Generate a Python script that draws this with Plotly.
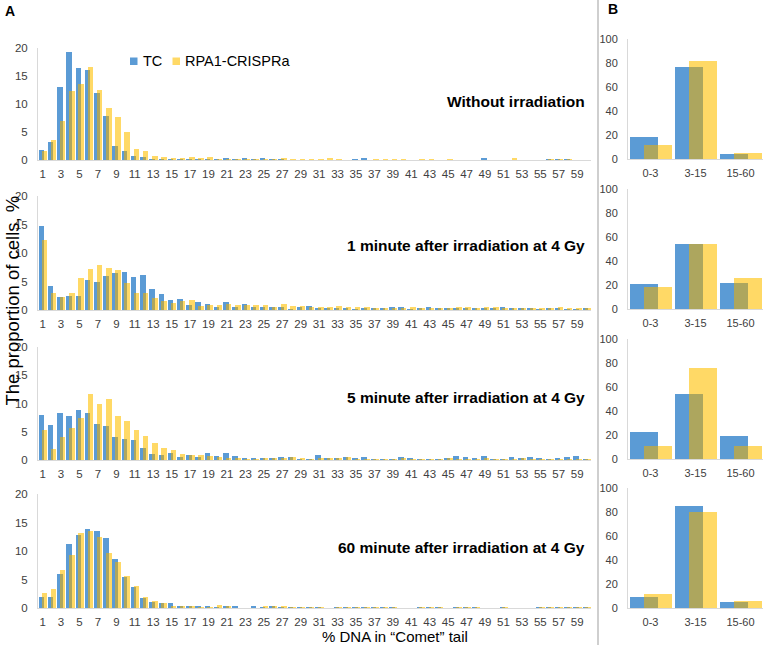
import numpy as np
import plotly.graph_objects as go

# ---------------- data ----------------
bins = list(range(1, 61))
bin_ticks = list(range(1, 60, 2))
bin_tick_labels = [str(v) for v in bin_ticks]

series_names = ["TC", "RPA1-CRISPRa"]
panel_titles = ["Without irradiation",
                "1 minute after irradiation at 4 Gy",
                "5 minute after irradiation at 4 Gy",
                "60 minute after irradiation at 4 Gy"]

tc_0 = [1.8, 3.3, 13.0, 19.2, 16.5, 16.0, 12.0, 7.8, 2.5, 1.6, 0.7, 0.6, 0.15, 0.1, 0.15,
        0.15, 0.15, 0.1, 0.1, 0.05, 0.25, 0.05, 0.2, 0.1, 0.2, 0.05, 0.05, 0.0, 0.0, 0.0,
        0.0, 0.0, 0.0, 0.0, 0.05, 0.2, 0.0, 0.0, 0.0, 0.0, 0.0, 0.0, 0.0, 0.0, 0.0,
        0.0, 0.0, 0.0, 0.3, 0.0, 0.0, 0.0, 0.0, 0.0, 0.0, 0.05, 0.15, 0.05, 0.0, 0.0]
rpa_0 = [1.6, 3.55, 6.9, 12.4, 13.6, 16.6, 12.5, 9.3, 7.6, 5.0, 1.9, 1.65, 0.75, 0.45, 0.35,
         0.35, 0.45, 0.3, 0.45, 0.1, 0.15, 0.1, 0.1, 0.1, 0.1, 0.1, 0.3, 0.1, 0.15, 0.15,
         0.05, 0.2, 0.15, 0.0, 0.0, 0.0, 0.05, 0.15, 0.15, 0.1, 0.0, 0.15, 0.15, 0.0, 0.15,
         0.0, 0.0, 0.0, 0.0, 0.0, 0.0, 0.2, 0.0, 0.0, 0.0, 0.1, 0.15, 0.15, 0.0, 0.0]

tc_1 = [14.7, 4.2, 2.35, 2.45, 2.45, 5.25, 4.95, 5.95, 6.5, 6.65, 5.75, 6.1, 3.65, 2.8, 1.75,
        1.85, 0.9, 1.35, 1.0, 0.45, 1.4, 0.6, 1.05, 0.45, 0.6, 0.45, 0.6, 0.1, 0.6, 0.7,
        0.4, 0.4, 0.35, 0.35, 0.1, 0.25, 0.2, 0.2, 0.45, 0.45, 0.1, 0.25, 0.45, 0.25, 0.2,
        0.25, 0.35, 0.35, 0.35, 0.4, 0.45, 0.35, 0.3, 0.3, 0.1, 0.25, 0.25, 0.1, 0.1, 0.2]
rpa_1 = [12.2, 3.0, 2.35, 3.0, 5.7, 7.15, 7.85, 7.45, 7.05, 4.7, 2.9, 2.9, 2.1, 1.5, 1.2,
         1.55, 1.75, 0.75, 0.95, 0.8, 1.05, 0.8, 0.8, 0.8, 0.85, 0.45, 1.05, 0.7, 0.65, 0.5,
         0.6, 0.45, 0.7, 0.45, 0.6, 0.45, 0.3, 0.3, 0.4, 0.25, 0.55, 0.35, 0.25, 0.25, 0.35,
         0.45, 0.45, 0.4, 0.6, 0.45, 0.35, 0.35, 0.35, 0.25, 0.3, 0.4, 0.45, 0.25, 0.3, 0.3]

tc_5 = [8.05, 6.25, 8.4, 7.75, 8.8, 8.4, 6.35, 6.1, 4.05, 3.8, 3.5, 2.1, 1.05, 0.9, 1.25,
        0.6, 0.9, 0.6, 1.25, 0.65, 1.25, 0.65, 0.35, 0.2, 0.3, 0.3, 0.45, 0.55, 0.1, 0.05,
        0.9, 0.3, 0.25, 0.6, 0.3, 0.6, 0.05, 0.1, 0.05, 0.6, 0.35, 0.02, 0.05, 0.05, 0.4,
        0.75, 0.45, 0.35, 0.75, 0.1, 0.05, 0.45, 0.4, 0.6, 0.35, 0.1, 0.35, 0.6, 0.75, 0.1]
rpa_5 = [5.3, 1.95, 4.0, 5.7, 7.35, 11.6, 10.0, 10.75, 7.75, 6.9, 5.25, 4.25, 3.0, 2.05, 1.75,
         1.05, 0.9, 0.9, 0.7, 0.6, 0.3, 0.25, 0.1, 0.05, 0.25, 0.2, 0.2, 0.45, 0.3, 0.15,
         0.3, 0.25, 0.35, 0.55, 0.1, 0.05, 0.05, 0.05, 0.05, 0.3, 0.05, 0.02, 0.05, 0.1, 0.2,
         0.1, 0.05, 0.05, 0.2, 0.05, 0.05, 0.05, 0.25, 0.05, 0.05, 0.05, 0.05, 0.05, 0.05, 0.05]

tc_60 = [1.9, 1.85, 6.0, 11.3, 12.8, 13.9, 13.5, 12.2, 8.55, 5.4, 3.65, 1.7, 1.1, 0.95, 0.85,
         0.25, 0.35, 0.25, 0.35, 0.15, 0.25, 0.25, 0.0, 0.3, 0.1, 0.3, 0.1, 0.05, 0.1, 0.1,
         0.1, 0.0, 0.1, 0.15, 0.15, 0.15, 0.15, 0.15, 0.1, 0.0, 0.0, 0.1, 0.15, 0.1, 0.0,
         0.1, 0.1, 0.1, 0.0, 0.0, 0.1, 0.0, 0.0, 0.0, 0.05, 0.1, 0.1, 0.05, 0.1, 0.05]
rpa_60 = [2.6, 3.25, 6.65, 9.25, 13.1, 13.45, 12.5, 9.6, 8.0, 5.65, 3.85, 1.9, 1.3, 0.95, 0.25,
          0.25, 0.25, 0.15, 0.1, 0.5, 0.25, 0.0, 0.0, 0.0, 0.25, 0.25, 0.25, 0.1, 0.15, 0.15,
          0.15, 0.0, 0.15, 0.1, 0.15, 0.1, 0.1, 0.1, 0.1, 0.0, 0.0, 0.1, 0.1, 0.1, 0.0,
          0.15, 0.15, 0.15, 0.0, 0.0, 0.15, 0.0, 0.0, 0.0, 0.1, 0.1, 0.15, 0.15, 0.15, 0.15]

groups = ["0-3", "3-15", "15-60"]
tc_groups = [[18, 77, 4], [21, 54, 22], [22.5, 54, 19], [9.5, 85, 5]]
rpa_groups = [[12, 82, 5], [18, 54, 26], [11, 76, 11], [12, 80, 6]]

tc_hist = [tc_0, tc_1, tc_5, tc_60]
rpa_hist = [rpa_0, rpa_1, rpa_5, rpa_60]

# ---------------- style ----------------
W, H = 763, 645
BLUE = "#5B9BD5"
YELLOW = "#FFD966"
OLIVE = "#ADA65E"
FONT = "Liberation Sans, Arial, sans-serif"
TICKC = "#404040"
LINEC = "#D9D9D9"

left_x = (38, 591)
right_x = (628, 763)
left_y = [(160, 48), (310, 196), (460, 347), (608, 494)]
right_y = [(159, 39), (309, 189), (459, 339), (608, 488)]


def px(x):
    return x / W


def py(y):
    return 1 - y / H


fig = go.Figure()
layout = {}

for i in range(4):
    # left histogram panel
    ax = i + 1
    xa, ya = f"x{ax}", f"y{ax}"
    tc = np.array(tc_hist[i])
    rp = np.array(rpa_hist[i])
    fig.add_trace(go.Bar(x=bins, y=tc, name=series_names[0], marker=dict(color=BLUE, line_width=0),
                         offset=-0.42, width=0.6, xaxis=xa, yaxis=ya, showlegend=False))
    fig.add_trace(go.Bar(x=bins, y=rp, name=series_names[1], marker=dict(color=YELLOW, line_width=0),
                         offset=-0.12, width=0.6, xaxis=xa, yaxis=ya, showlegend=False))
    fig.add_trace(go.Bar(x=bins, y=np.minimum(tc, rp), marker=dict(color=OLIVE, line_width=0),
                         offset=-0.12, width=0.3, xaxis=xa, yaxis=ya,
                         showlegend=False, hoverinfo="skip"))
    layout[f"xaxis{ax}"] = dict(domain=[px(left_x[0]), px(left_x[1])], range=[0.5, 60.5],
                                tickvals=bin_ticks, ticktext=bin_tick_labels, showline=True,
                                linecolor=LINEC, linewidth=1, showgrid=False, zeroline=False,
                                ticks="", tickfont=dict(size=11.5, color=TICKC, family=FONT),
                                anchor=ya, ticklabelstandoff=3)
    layout[f"yaxis{ax}"] = dict(domain=[py(left_y[i][0]), py(left_y[i][1])], range=[0, 20],
                                tickvals=[0, 5, 10, 15, 20], showline=True, linecolor=LINEC,
                                linewidth=1, showgrid=False, zeroline=False, ticks="",
                                tickfont=dict(size=11.5, color=TICKC, family=FONT),
                                anchor=xa, ticklabelstandoff=7)

    # right grouped panel
    ax = i + 5
    xa, ya = f"x{ax}", f"y{ax}"
    tg = np.array(tc_groups[i], dtype=float)
    rg = np.array(rpa_groups[i], dtype=float)
    gx = list(range(len(groups)))
    fig.add_trace(go.Bar(x=gx, y=tg, marker=dict(color=BLUE, line_width=0), offset=-0.45,
                         width=0.62, xaxis=xa, yaxis=ya, showlegend=False, name=series_names[0]))
    fig.add_trace(go.Bar(x=gx, y=rg, marker=dict(color=YELLOW, line_width=0), offset=-0.15,
                         width=0.63, xaxis=xa, yaxis=ya, showlegend=False, name=series_names[1]))
    fig.add_trace(go.Bar(x=gx, y=np.minimum(tg, rg), marker=dict(color=OLIVE, line_width=0),
                         offset=-0.15, width=0.32, xaxis=xa, yaxis=ya, showlegend=False,
                         hoverinfo="skip"))
    layout[f"xaxis{ax}"] = dict(domain=[px(right_x[0]), px(right_x[1])], range=[-0.5, 2.5],
                                tickvals=gx, ticktext=groups, showline=True, linecolor=LINEC,
                                linewidth=1, showgrid=False, zeroline=False, ticks="",
                                tickfont=dict(size=11, color=TICKC, family=FONT), anchor=ya,
                                ticklabelstandoff=4)
    layout[f"yaxis{ax}"] = dict(domain=[py(right_y[i][0]), py(right_y[i][1])], range=[0, 100],
                                tickvals=[0, 20, 40, 60, 80, 100], showline=True,
                                linecolor=LINEC, linewidth=1, showgrid=False, zeroline=False,
                                ticks="", tickfont=dict(size=11, color=TICKC, family=FONT),
                                anchor=xa, ticklabelstandoff=7)

annotations = []
title_y = [101, 246, 397, 547]
for t, yy in zip(panel_titles, title_y):
    annotations.append(dict(text=f"<b>{t}</b>", x=px(587), y=py(yy), xref="paper", yref="paper",
                            xanchor="right", yanchor="middle", showarrow=False,
                            font=dict(size=15.5, color="#000000", family=FONT)))
annotations.append(dict(text="<b>A</b>", x=px(3), y=py(11), xref="paper", yref="paper",
                        xanchor="left", yanchor="middle", showarrow=False,
                        font=dict(size=14, color="#000000", family=FONT)))
annotations.append(dict(text="<b>B</b>", x=px(606), y=py(9), xref="paper", yref="paper",
                        xanchor="left", yanchor="middle", showarrow=False,
                        font=dict(size=14, color="#000000", family=FONT)))
annotations.append(dict(text="The proportion of cells, %", x=0, y=py(301), xref="paper",
                        yref="paper", xanchor="left", yanchor="middle", textangle=-90,
                        showarrow=False, borderpad=0,
                        font=dict(size=18.5, color="#000000", family=FONT)))
annotations.append(dict(text="% DNA in \u201cComet\u201d tail", x=px(395), y=py(636),
                        xref="paper", yref="paper", xanchor="center", yanchor="middle",
                        showarrow=False, font=dict(size=15, color="#000000", family=FONT)))

# legend (key squares + labels)
legend_items = [(series_names[0], BLUE, 130, 141), (series_names[1], YELLOW, 172.5, 183)]
shapes = [dict(type="line", xref="paper", yref="paper", x0=px(598), x1=px(598), y0=0, y1=1,
               line=dict(color="#BFBFBF", width=1.5))]
for name, col, sx, tx in legend_items:
    shapes.append(dict(type="rect", xref="paper", yref="paper", x0=px(sx), x1=px(sx + 7.5),
                       y0=py(65), y1=py(57.5), fillcolor=col, line=dict(width=0)))
    annotations.append(dict(text=name, x=px(tx), y=py(61), xref="paper", yref="paper",
                            xanchor="left", yanchor="middle", showarrow=False,
                            font=dict(size=14.5, color="#000000", family=FONT)))

fig.update_layout(
    width=W, height=H, margin=dict(l=0, r=0, t=0, b=0, autoexpand=False),
    paper_bgcolor="white", plot_bgcolor="white",
    barmode="overlay", bargap=0,
    font=dict(family=FONT, color="#000000"),
    showlegend=False,
    annotations=annotations, shapes=shapes,
    **layout,
)

fig.write_html("out.html", config={"displayModeBar": False},
               post_script="document.body.style.margin='0';"
                           "document.body.style.overflow='hidden';")
